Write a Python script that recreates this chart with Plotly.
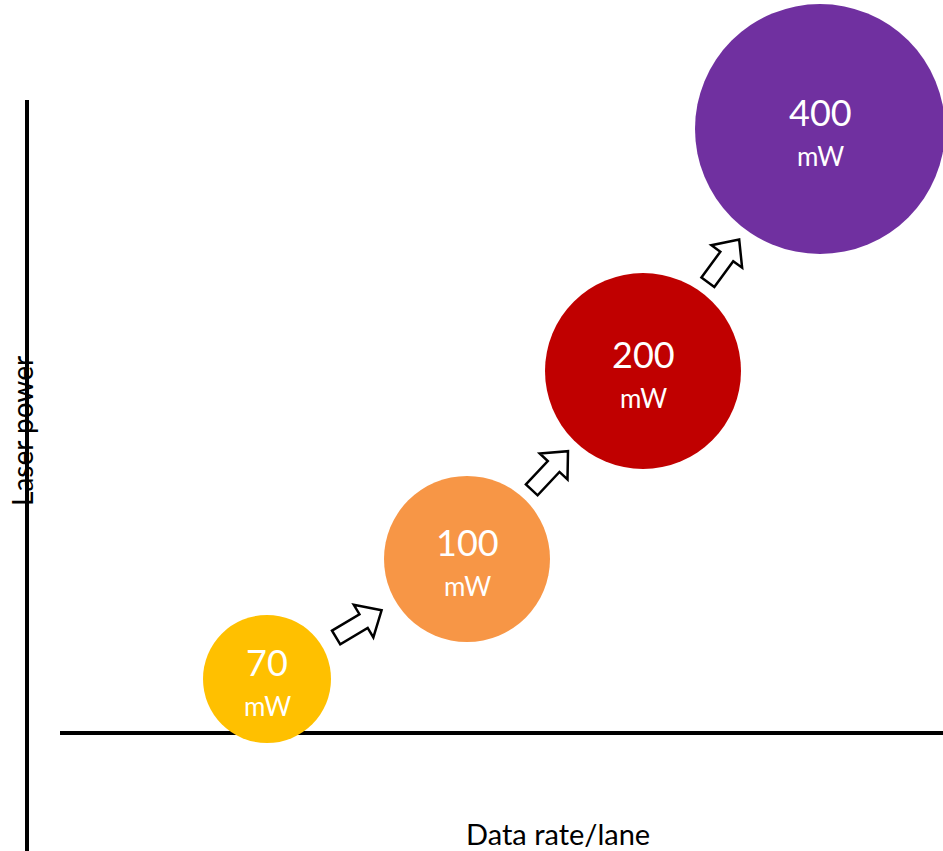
import math
import plotly.graph_objects as go

# ---- data ----
power_labels = ["70", "100", "200", "400"]
unit_label = "mW"
data_rate = [267, 467, 643, 820]          # x position (arbitrary units)
laser_power = [172, 292, 480, 722]        # y position (arbitrary units)
bubble_diam = [128, 166, 196, 250]
colors = ["#FFC000", "#F79646", "#C00000", "#7030A0"]
x_title = "Data rate/lane"
y_title = "Laser power"

W, H = 943, 851
FONT = "Lato, 'Open Sans', sans-serif"

fig = go.Figure()

# axes lines
fig.add_shape(type="line", x0=27, x1=27, y0=0, y1=751, xref="x", yref="y",
              line=dict(color="black", width=4), layer="below")
fig.add_shape(type="line", x0=60, x1=943, y0=118, y1=118, xref="x", yref="y",
              line=dict(color="black", width=4), layer="below")

# bubbles
fig.add_trace(go.Scatter(
    x=data_rate, y=laser_power, mode="markers",
    marker=dict(size=bubble_diam, sizemode="diameter", color=colors,
                line=dict(width=0), opacity=1),
    hoverinfo="skip", showlegend=False))

# labels
for xv, yv, lab in zip(data_rate, laser_power, power_labels):
    fig.add_annotation(x=xv, y=yv + 17, text=lab, showarrow=False,
                       font=dict(family=FONT, size=36, color="white"),
                       xanchor="center", yanchor="middle")
    fig.add_annotation(x=xv, y=yv - 27, text=unit_label, showarrow=False,
                       font=dict(family=FONT, size=26, color="white"),
                       xanchor="center", yanchor="middle")

# block arrows between bubbles
L, shw, hhw, hl = 53, 8, 19, 21
for i in range(len(data_rate) - 1):
    x1, y1, r1 = data_rate[i], laser_power[i], bubble_diam[i] / 2
    x2, y2, r2 = data_rate[i + 1], laser_power[i + 1], bubble_diam[i + 1] / 2
    dx, dy = x2 - x1, y2 - y1
    d = math.hypot(dx, dy)
    ux, uy = dx / d, dy / d
    px, py = -uy, ux
    ex1, ey1 = x1 + ux * r1, y1 + uy * r1
    ex2, ey2 = x2 - ux * r2, y2 - uy * r2
    cx, cy = (ex1 + ex2) / 2, (ey1 + ey2) / 2
    tx, ty = cx - ux * L / 2, cy - uy * L / 2  # tail center
    tipx, tipy = cx + ux * L / 2, cy + uy * L / 2
    bx, by = tipx - ux * hl, tipy - uy * hl  # head base center
    pts = [
        (tx + px * shw, ty + py * shw),
        (bx + px * shw, by + py * shw),
        (bx + px * hhw, by + py * hhw),
        (tipx, tipy),
        (bx - px * hhw, by - py * hhw),
        (bx - px * shw, by - py * shw),
        (tx - px * shw, ty - py * shw),
    ]
    path = "M " + " L ".join(f"{a:.2f},{b:.2f}" for a, b in pts) + " Z"
    fig.add_shape(type="path", path=path, xref="x", yref="y",
                  fillcolor="white", line=dict(color="black", width=2.5))

# axis titles
fig.add_annotation(x=558, y=18, text=x_title, showarrow=False,
                   font=dict(family=FONT, size=29, color="black"),
                   xanchor="center", yanchor="middle")
fig.add_annotation(x=22, y=420, text=y_title, showarrow=False, textangle=-90,
                   font=dict(family=FONT, size=28, color="black"),
                   xanchor="center", yanchor="middle")

fig.update_layout(
    width=W, height=H, margin=dict(l=0, r=0, t=0, b=0),
    paper_bgcolor="white", plot_bgcolor="white",
    xaxis=dict(range=[0, W], visible=False, fixedrange=True),
    yaxis=dict(range=[0, H], visible=False, fixedrange=True),
    showlegend=False,
)

fig.write_html("out.html")
